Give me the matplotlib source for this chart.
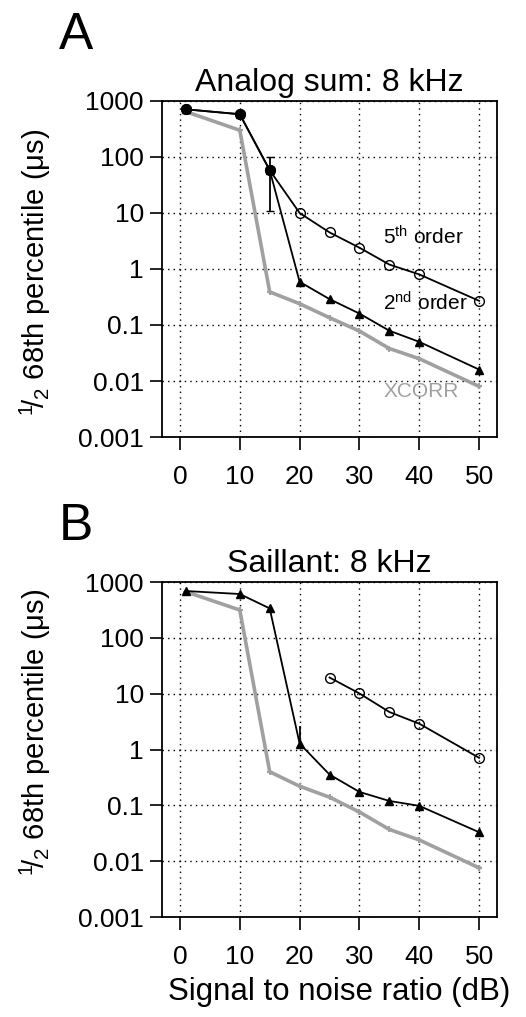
import matplotlib.pyplot as plt

plt.rcParams['font.family'] = ['Liberation Sans', 'DejaVu Sans']
plt.rcParams['mathtext.fontset'] = 'custom'
plt.rcParams['mathtext.rm'] = 'Liberation Sans'
plt.rcParams['mathtext.it'] = 'Liberation Sans:italic'

# signal to noise ratio (dB)
snr = [1, 10, 15, 20, 25, 30, 35, 40, 50]

# Panel A: analog sum, 8 kHz
a_fifth = [710, 580, 58, 10, 4.5, 2.4, 1.2, 0.8, 0.27]
a_second = [710, 580, 58, 0.59, 0.29, 0.16, 0.079, 0.05, 0.016]
a_xcorr = [645, 300, 0.39, 0.24, 0.135, 0.078, 0.038, 0.025, 0.008]
a_err_x, a_err_y, a_err_lo, a_err_hi = 15, 58, 47, 42

# Panel B: Saillant, 8 kHz
b_snr5 = [25, 30, 35, 40, 50]
b_fifth = [19.5, 10.1, 4.7, 2.9, 0.71]
b_second = [690, 610, 337, 1.28, 0.356, 0.174, 0.12, 0.098, 0.033]
b_xcorr = [670, 315, 0.40, 0.22, 0.14, 0.076, 0.037, 0.024, 0.0076]
b_err_x, b_err_y, b_err_lo, b_err_hi = 20, 1.28, 0.0, 1.4

yticks = [0.001, 0.01, 0.1, 1, 10, 100, 1000]
ytick_labels = ['0.001', '0.01', '0.1', '1', '10', '100', '1000']
xticks = [0, 10, 20, 30, 40, 50]

GRAY = '#a0a0a0'
YLABEL = r'$^{1}\!/_{2}$ 68th percentile (μs)'

fig = plt.figure(figsize=(5.26, 10.17), dpi=100)
axA = fig.add_axes([0.308, 0.5703, 0.637, 0.3304])
axB = fig.add_axes([0.308, 0.0983, 0.637, 0.3294])


def style_axis(ax, title):
    ax.set_yscale('log')
    ax.set_ylim(0.001, 1000)
    ax.set_xlim(-3, 53)
    ax.set_yticks(yticks)
    ax.set_yticklabels(ytick_labels)
    ax.minorticks_off()
    ax.set_xticks(xticks)
    ax.tick_params(axis='both', direction='out', length=9, width=1.2,
                   labelsize=19, top=False, right=False)
    ax.tick_params(axis='x', pad=11)
    ax.tick_params(axis='y', pad=4)
    ax.grid(True, linestyle=(0, (1, 3)), color='black', linewidth=1.0)
    for s in ax.spines.values():
        s.set_linewidth(1.3)
    ax.set_title(title, fontsize=23, pad=7)


# panel A
axA.plot(snr, a_xcorr, color=GRAY, lw=2.6, marker='+', ms=4, mew=1.5, zorder=2)
axA.plot(snr, a_second, color='black', lw=1.3, marker='^', ms=6, zorder=3)
axA.plot(snr, a_fifth, color='black', lw=1.3, marker='o', ms=7, mfc='none', mew=1.0, zorder=4)
axA.plot(snr[:3], a_fifth[:3], ls='none', marker='o', ms=7, color='black', zorder=5)
axA.errorbar([a_err_x], [a_err_y], yerr=[[a_err_lo], [a_err_hi]], fmt='none',
             ecolor='black', elinewidth=1.3, capsize=3, zorder=5)
axA.text(34, 3.7, r'5$^{\mathrm{th}}$ order', fontsize=15, va='center', ha='left')
axA.text(34, 0.25, r'2$^{\mathrm{nd}}$ order', fontsize=15, va='center', ha='left')
axA.text(34, 0.0064, 'XCORR', fontsize=15, va='center', ha='left', color=GRAY)
style_axis(axA, 'Analog sum: 8 kHz')
axA.set_ylabel(YLABEL, fontsize=21)
axA.yaxis.set_label_coords(-0.325, 0.49)

# panel B
axB.plot(snr, b_xcorr, color=GRAY, lw=2.6, marker='+', ms=4, mew=1.5, zorder=2)
axB.plot(snr, b_second, color='black', lw=1.3, marker='^', ms=6, zorder=3)
axB.plot(b_snr5, b_fifth, color='black', lw=1.3, marker='o', ms=7, mfc='none', mew=1.0, zorder=4)
axB.errorbar([b_err_x], [b_err_y], yerr=[[b_err_lo], [b_err_hi]], fmt='none',
             ecolor='black', elinewidth=1.3, capsize=0, zorder=5)
style_axis(axB, 'Saillant: 8 kHz')
axB.set_ylabel(YLABEL, fontsize=21)
axB.yaxis.set_label_coords(-0.325, 0.55)
axB.set_xlabel('Signal to noise ratio (dB)', fontsize=22.5)
axB.xaxis.set_label_coords(0.53, -0.18)

fig.text(0.112, 0.965, 'A', fontsize=37, ha='left', va='center')
fig.text(0.112, 0.482, 'B', fontsize=37, ha='left', va='center')

fig.savefig('out.png', dpi=100)
